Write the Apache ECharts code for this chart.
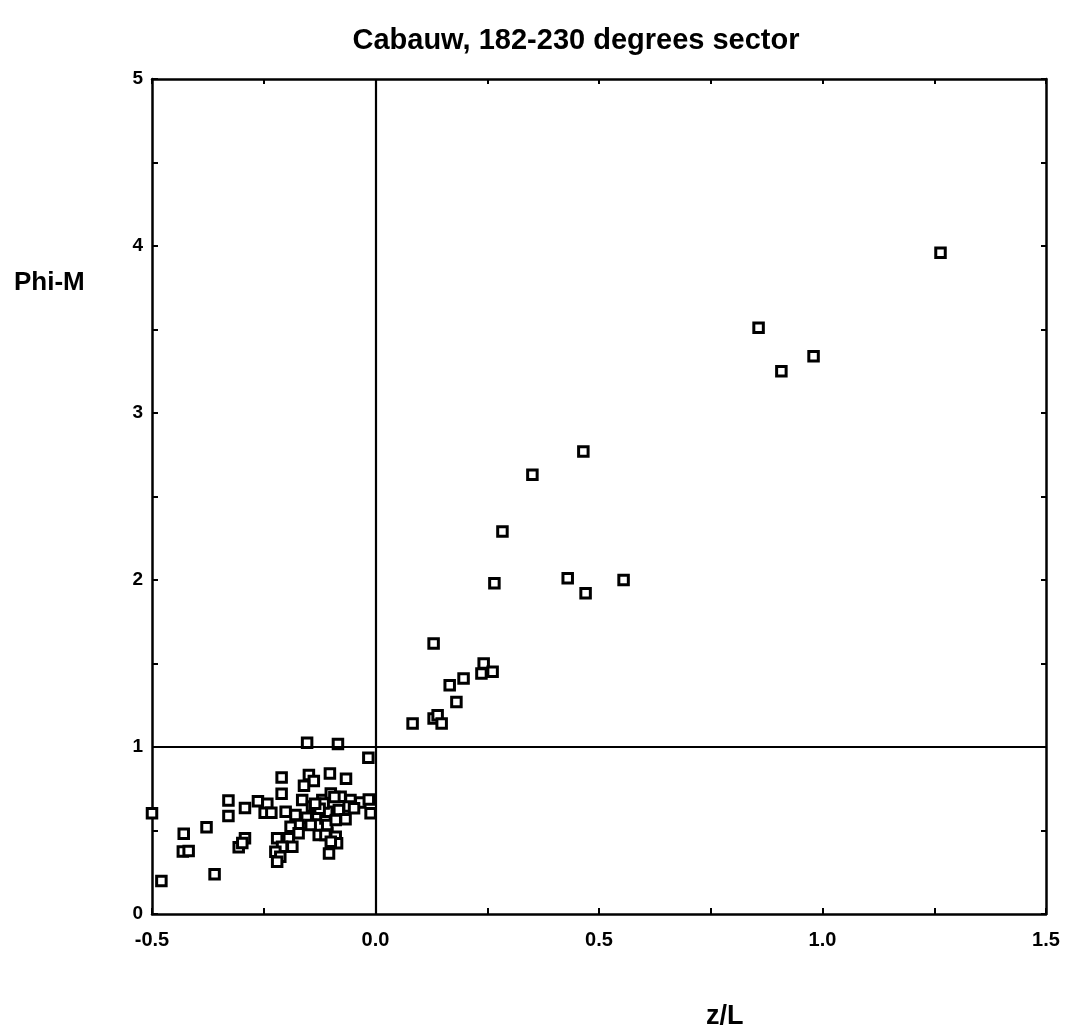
<!DOCTYPE html>
<html>
<head>
<meta charset="utf-8">
<script src="https://cdn.jsdelivr.net/npm/echarts@6/dist/echarts.min.js"></script>
<style>
html,body{margin:0;padding:0;background:#fff;}
#chart{width:1072px;height:1030px;}
</style>
</head>
<body>
<div id="chart"></div>
<script>
// z/L values (x) and Phi-M values (y)
const zL = [
  1.264, 0.857, 0.908, 0.980, 0.465, 0.351, 0.284, 0.266, 0.430, 0.470, 0.555,
  0.130, 0.242, 0.237, 0.262, 0.197, 0.166, 0.181, 0.083, 0.130, 0.139, 0.148,
  -0.153, -0.084, -0.016, -0.210, -0.149, -0.138, -0.160, -0.102, -0.066, -0.210,
  -0.329, -0.329, -0.292, -0.263, -0.242, -0.248, -0.233, -0.201, -0.164, -0.142,
  -0.119, -0.179, -0.154, -0.130, -0.112, -0.172, -0.145, -0.190, -0.172, -0.127,
  -0.108, -0.194, -0.220, -0.186, -0.209, -0.224, -0.213, -0.220, -0.104, -0.100,
  -0.078, -0.056, -0.034, -0.015, -0.011, -0.108, -0.082, -0.060, -0.048, -0.067,
  -0.116, -0.108, -0.089, -0.112, -0.089, -0.086, -0.100, -0.429, -0.378, -0.431,
  -0.418, -0.292, -0.306, -0.298, -0.360, -0.479, -0.500, -0.125, -0.135, -0.092
];
const phiM = [
  3.96, 3.51, 3.25, 3.34, 2.77, 2.63, 2.29, 1.98, 2.01, 1.92, 2.00,
  1.62, 1.50, 1.44, 1.45, 1.41, 1.37, 1.27, 1.14, 1.17, 1.19, 1.14,
  1.026, 1.018, 0.936, 0.818, 0.832, 0.796, 0.768, 0.842, 0.810, 0.720,
  0.680, 0.587, 0.635, 0.675, 0.660, 0.607, 0.607, 0.613, 0.683, 0.643,
  0.683, 0.593, 0.577, 0.593, 0.572, 0.533, 0.533, 0.523, 0.483, 0.473,
  0.483, 0.453, 0.453, 0.403, 0.403, 0.373, 0.343, 0.313, 0.363, 0.722,
  0.702, 0.683, 0.667, 0.686, 0.603, 0.613, 0.623, 0.643, 0.633, 0.567,
  0.662, 0.533, 0.563, 0.473, 0.463, 0.423, 0.433, 0.481, 0.519, 0.375,
  0.377, 0.453, 0.400, 0.425, 0.238, 0.198, 0.603, 0.630, 0.660, 0.700
];
const xTicks = [-0.5, 0.0, 0.5, 1.0, 1.5];
const yTicks = [0, 1, 2, 3, 4, 5];

const points = zL.map((x, i) => [x, phiM[i]]);
const font = '"Liberation Sans", Arial, sans-serif';

const chart = echarts.init(document.getElementById('chart'));
const axisLine = {show: true, onZero: false, lineStyle: {color: '#000', width: 2.5}};
chart.setOption({
  backgroundColor: '#fff',
  animation: false,
  title: {
    text: 'Cabauw, 182-230 degrees sector',
    left: 571, top: 21, textAlign: 'center',
    textStyle: {fontFamily: font, fontWeight: 'bold', fontSize: 29, color: '#000'}
  },
  graphic: [
    {type: 'text', left: 14, top: 270, style: {text: 'Phi-M', fontFamily: font, fontWeight: 'bold', fontSize: 26, fill: '#000'}},
    {type: 'text', left: 706, top: 1003, style: {text: 'z/L', fontFamily: font, fontWeight: 'bold', fontSize: 27, fill: '#000'}}
  ],
  grid: {left: 152, right: 26, top: 79, bottom: 116},
  xAxis: [{
    type: 'value', min: -0.5, max: 1.5, interval: 0.25, position: 'bottom',
    axisLine: axisLine,
    axisTick: {show: true, inside: true, length: 6, lineStyle: {color: '#000', width: 2}},
    splitLine: {show: false},
    axisLabel: {
      margin: 16, color: '#000', fontFamily: font, fontWeight: 'bold', fontSize: 20,
      customValues: xTicks, formatter: v => v.toFixed(1)
    }
  }, {
    type: 'value', min: -0.5, max: 1.5, interval: 0.25, position: 'top',
    axisLine: axisLine,
    axisTick: {show: true, inside: true, length: 5, lineStyle: {color: '#000', width: 2}},
    splitLine: {show: false}, axisLabel: {show: false}
  }],
  yAxis: [{
    type: 'value', min: 0, max: 5, interval: 0.5, position: 'left',
    axisLine: axisLine,
    axisTick: {show: true, inside: true, length: 6, lineStyle: {color: '#000', width: 2}},
    splitLine: {show: false},
    axisLabel: {
      margin: 9, color: '#000', fontFamily: font, fontWeight: 'bold', fontSize: 19,
      customValues: yTicks, formatter: v => String(v)
    }
  }, {
    type: 'value', min: 0, max: 5, interval: 0.5, position: 'right',
    axisLine: axisLine,
    axisTick: {show: true, inside: true, length: 5, lineStyle: {color: '#000', width: 2}},
    splitLine: {show: false}, axisLabel: {show: false}
  }],
  series: [{
    type: 'scatter',
    xAxisIndex: 0, yAxisIndex: 0,
    data: points,
    symbol: 'rect',
    symbolSize: 9.5,
    clip: true,
    itemStyle: {color: '#fff', borderColor: '#000', borderWidth: 3, opacity: 1},
    markLine: {
      silent: true, symbol: 'none', animation: false,
      label: {show: false},
      lineStyle: {color: '#000', width: 2.2, type: 'solid'},
      data: [{xAxis: 0}, {yAxis: 1}]
    },
    z: 3
  }]
});
</script>
</body>
</html>
